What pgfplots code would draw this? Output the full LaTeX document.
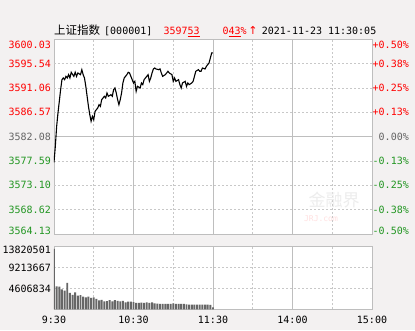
\documentclass[border=0pt]{standalone}
\usepackage{pgfplots}
\pgfplotsset{compat=1.18}
\usepackage{fontspec}
\setmainfont{DejaVu Sans Mono}
\newfontfamily\cjk{Noto Sans CJK SC}
\newfontfamily\dvs{DejaVu Sans}
\definecolor{bg}{RGB}{243,241,241}
\definecolor{fr}{RGB}{190,190,190}
\definecolor{gr}{RGB}{200,200,200}
\definecolor{up}{RGB}{255,0,0}
\definecolor{dn}{RGB}{34,150,34}
\definecolor{mid}{RGB}{100,100,100}
\definecolor{vol}{RGB}{102,102,102}
\pgfplotstableread{
m p
0 3577.35
1 3580.30
2 3583.99
3 3586.44
4 3588.59
5 3590.75
6 3592.59
7 3592.90
8 3592.59
9 3593.20
10 3592.90
11 3593.51
12 3592.90
13 3593.94
15 3593.20
16 3593.94
17 3593.20
18 3593.82
20 3593.51
21 3594.43
22 3593.51
23 3592.90
24 3591.36
25 3589.52
26 3587.67
27 3586.14
28 3584.91
29 3585.83
30 3585.21
31 3586.75
33 3587.37
34 3587.98
35 3587.67
36 3588.90
38 3589.52
39 3589.21
40 3590.13
41 3589.52
43 3589.82
44 3589.52
45 3590.75
46 3591.05
47 3590.13
48 3588.90
49 3587.98
50 3588.90
51 3590.13
52 3591.98
53 3592.90
55 3593.51
56 3593.94
57 3593.82
58 3593.20
60 3591.98
61 3592.28
62 3590.44
63 3591.36
65 3591.05
66 3591.98
67 3591.67
68 3592.59
70 3593.20
71 3593.51
72 3592.28
73 3592.90
74 3593.82
75 3594.56
76 3594.74
77 3594.56
79 3594.43
80 3594.56
81 3593.82
82 3593.20
84 3593.51
85 3593.82
86 3594.13
87 3593.82
89 3593.51
90 3592.28
91 3592.90
92 3592.28
94 3592.59
95 3591.67
96 3591.05
97 3591.98
99 3592.28
100 3591.36
101 3591.98
102 3591.67
104 3591.98
105 3592.28
106 3593.20
107 3594.13
109 3594.43
110 3594.13
111 3594.13
112 3594.74
114 3594.56
115 3595.05
116 3595.36
117 3595.66
118 3596.58
119 3597.51
120 3597.53
}\price
\pgfplotstableread{
m v
0 13300000
2 5050000
4 5000000
6 4400000
8 4100000
10 5800000
12 3600000
14 3200000
16 3700000
18 3000000
20 3100000
22 2800000
24 2600000
26 2800000
28 2500000
30 2600000
32 2300000
34 1950000
36 2100000
38 1750000
40 1800000
42 2000000
44 1750000
46 2000000
48 1850000
50 1750000
52 1850000
54 1550000
56 1700000
58 1700000
60 1600000
62 1400000
64 1390000
66 1450000
68 1390000
70 1500000
72 1390000
74 1500000
76 1300000
78 1250000
80 1200000
82 1170000
84 1170000
86 1200000
88 1170000
90 1300000
92 1170000
94 1170000
96 1170000
98 1170000
100 1100000
102 1050000
104 1020000
106 1020000
108 1020000
110 1020000
112 1020000
114 1020000
116 1020000
118 1000000
120 450000
}\volume
\newcommand{\lo}[1]{\raisebox{-6pt}[\height][\depth]{#1}}
\newcommand{\hi}[1]{\raisebox{3pt}[\height][\depth]{#1}}
\begin{document}
\begin{tikzpicture}[x=1pt,y=1pt]
\path[use as bounding box, fill=bg] (0,0) rectangle (415,330);
\pgfplotsset{
  every axis/.append style={
    scale only axis, width=318pt, anchor=south west,
    xmin=0, xmax=240, major tick length=0pt,
    axis line style={fr, line width=0.8pt},
    tick label style={font=\fontsize{10}{12}\selectfont, inner sep=0pt},
  }
}
% main price axis
\begin{axis}[at={(54pt,96pt)}, height=194.7pt,
  ymin=3564.13, ymax=3600.03,
  axis background/.style={fill=white},
  xtick=\empty,
  ytick={3564.13,3568.62,3573.10,3577.59,3582.08,3586.57,3591.06,3595.54,3600.03},
  yticklabels={\hi{\textcolor{dn}{3564.13}},\textcolor{dn}{3568.62},\textcolor{dn}{3573.10},\textcolor{dn}{3577.59},\textcolor{mid}{3582.08},\textcolor{up}{3586.57},\textcolor{up}{3591.06},\textcolor{up}{3595.54},\lo{\textcolor{up}{3600.03}}},
  yticklabel style={anchor=east, xshift=-3pt},
]
\pgfplotsinvokeforeach{3568.62,3573.10,3577.59,3586.57,3591.06,3595.54}{
  \draw[gr, dash pattern=on 2pt off 2pt, line width=0.7pt] (axis cs:0,#1) -- (axis cs:240,#1);}
\pgfplotsinvokeforeach{30,90,150,210}{
  \draw[gr, dash pattern=on 2pt off 2pt, line width=0.7pt] (axis cs:#1,3564.13) -- (axis cs:#1,3600.03);}
\pgfplotsinvokeforeach{60,120,180}{
  \draw[fr, line width=1pt] (axis cs:#1,3564.13) -- (axis cs:#1,3600.03);}
\draw[fr, line width=1pt] (axis cs:0,3582.08) -- (axis cs:240,3582.08);
\addplot[black, line width=1.1pt, mark=none] table[x=m, y=p] {\price};
\end{axis}
% right percentage labels
\begin{axis}[at={(54pt,96pt)}, height=194.7pt,
  ymin=3564.13, ymax=3600.03,
  axis x line=none, axis y line*=right,
  ytick={3564.13,3568.62,3573.10,3577.59,3582.08,3586.57,3591.06,3595.54,3600.03},
  yticklabels={\hi{\textcolor{dn}{-0.50\%}},\textcolor{dn}{-0.38\%},\textcolor{dn}{-0.25\%},\textcolor{dn}{-0.13\%},\textcolor{mid}{\phantom{+}0.00\%},\textcolor{up}{+0.13\%},\textcolor{up}{+0.25\%},\textcolor{up}{+0.38\%},\lo{\textcolor{up}{+0.50\%}}},
  yticklabel style={anchor=west, xshift=0.5pt},
]
\addplot[draw=none] coordinates {(0,3582.08)};
\end{axis}
% volume axis
\begin{axis}[at={(54pt,20.7pt)}, height=62.8pt,
  ymin=0, ymax=13820501,
  axis background/.style={fill=white},
  xtick={0,60,120,180,240},
  xticklabels={9:30,10:30,11:30,14:00,15:00},
  xticklabel style={anchor=north, yshift=-7pt},
  ytick={4606834,9213667,13820501},
  yticklabels={4606834,9213667,\raisebox{-3.5pt}[\height][\depth]{13820501}},
  yticklabel style={anchor=east, xshift=-3pt},
  scaled y ticks=false,
]
\pgfplotsinvokeforeach{4606834,9213667}{
  \draw[gr, dash pattern=on 2pt off 2pt, line width=0.7pt] (axis cs:0,#1) -- (axis cs:240,#1);}
\pgfplotsinvokeforeach{30,90,150,210}{
  \draw[gr, dash pattern=on 2pt off 2pt, line width=0.7pt] (axis cs:#1,0) -- (axis cs:#1,13820501);}
\pgfplotsinvokeforeach{60,120,180}{
  \draw[fr, line width=1pt] (axis cs:#1,0) -- (axis cs:#1,13820501);}
\addplot[ybar, bar width=1.5, bar shift=0pt, fill=vol, draw=none] table[x=m, y=v] {\volume};
\end{axis}
% watermark
\node[text=gray!14, inner sep=0] at (334,129.5) {\cjk\fontsize{17}{17}\selectfont 金融界};
\node[text=red!12, inner sep=0] at (321,111.5) {\fontsize{8}{8}\selectfont JRJ.com};
% title
\node[anchor=base west, inner sep=0] at (54,295) {\cjk\fontsize{11.5}{12}\selectfont 上证指数};
\node[anchor=base west, inner sep=0] at (104,295) {\fontsize{10}{12}\selectfont [000001]};
\node[anchor=base west, inner sep=0, text=up] at (163.3,295) {\fontsize{10}{12}\selectfont 3597\underline{53}};
\node[anchor=base west, inner sep=0, text=up] at (222.3,295) {\fontsize{10}{12}\selectfont 0\underline{43}\%\,{\dvs\fontsize{11}{12}\selectfont ↑}};
\node[anchor=base west, inner sep=0] at (261.7,295) {\fontsize{10}{12}\selectfont 2021-11-23 11:30:05};
\end{tikzpicture}
\end{document}
